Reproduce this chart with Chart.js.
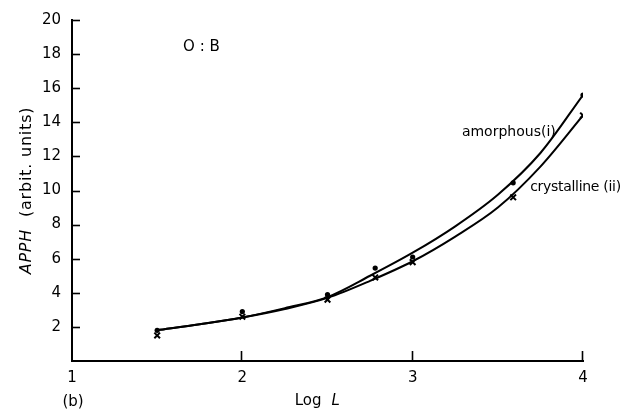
<!DOCTYPE html>
<html>
<head>
<meta charset="utf-8">
<script src="https://cdn.jsdelivr.net/npm/chart.js@4/dist/chart.umd.min.js"></script>
<style>
html,body{margin:0;padding:0;background:#fff;}
#wrap{width:624px;height:413px;}
</style>
</head>
<body>
<div id="wrap"><canvas id="c" width="624" height="413"></canvas></div>
<script>
// ---- data ----
const curveX = [1.5, 1.75, 2.0, 2.25, 2.5, 2.75, 3.0, 3.25, 3.5, 3.75, 4.0];
const amorphousCurve = [1.8, 2.15, 2.55, 3.1, 3.75, 5.0, 6.35, 7.9, 9.75, 12.2, 15.6];
const crystallineCurve = [1.8, 2.15, 2.55, 3.05, 3.7, 4.7, 5.85, 7.3, 9.0, 11.4, 14.4];

const pointX = [1.5, 2.0, 2.5, 2.78, 3.0, 3.59, 4.0];
const amorphousPoints = [1.8, 2.9, 3.9, 5.45, 6.1, 10.45, 15.6];
const crystallinePoints = [1.5, 2.6, 3.6, 4.9, 5.8, 9.6, 14.4];

const xTickValues = [1, 2, 3, 4];
const yTickValues = [2, 4, 6, 8, 10, 12, 14, 16, 18, 20];

const seriesNames = ['amorphous(i)', 'crystalline (ii)'];
const panelLabel = 'O : B';
const figLabel = '(b)';

const FONT = '"DejaVu Sans", "Liberation Sans", sans-serif';

function pairs(xs, ys) { return xs.map((x, i) => ({x: x, y: ys[i]})); }

const annotations = {
  id: 'annotations',
  afterDraw(chart) {
    const ctx = chart.ctx;
    const xs = chart.scales.x, ys = chart.scales.y;
    const area = chart.chartArea;
    ctx.save();
    ctx.strokeStyle = '#000';
    ctx.fillStyle = '#000';
    ctx.lineWidth = 1.6;
    // inward ticks on y axis
    ys.ticks.forEach(t => {
      if (yTickValues.indexOf(t.value) < 0) return;
      const py = Math.round(ys.getPixelForValue(t.value)) + 0.5;
      ctx.beginPath();
      ctx.moveTo(area.left, py);
      ctx.lineTo(area.left + 8, py);
      ctx.stroke();
    });
    // upward ticks on x axis
    xs.ticks.forEach(t => {
      if (t.value <= xs.min) return;
      const px = Math.round(xs.getPixelForValue(t.value)) - 0.5;
      ctx.beginPath();
      ctx.moveTo(px, area.bottom);
      ctx.lineTo(px, area.bottom - 10);
      ctx.stroke();
    });

    ctx.textBaseline = 'middle';
    // panel label
    ctx.font = '15px ' + FONT;
    ctx.textAlign = 'center';
    ctx.fillText(panelLabel, xs.getPixelForValue(1.76), ys.getPixelForValue(18.4));

    // series labels
    ctx.font = '14px ' + FONT;
    ctx.textAlign = 'right';
    ctx.fillText(seriesNames[0], xs.getPixelForValue(3.84), ys.getPixelForValue(13.4));
    ctx.save();
    ctx.letterSpacing = '-0.3px';
    ctx.textAlign = 'left';
    ctx.fillText(seriesNames[1], xs.getPixelForValue(3.69), ys.getPixelForValue(10.2));
    ctx.restore();

    // x-axis title "Log L"
    ctx.textAlign = 'left';
    ctx.font = '15px ' + FONT;
    const logW = ctx.measureText('Log').width;
    ctx.font = 'italic 15px ' + FONT;
    const lW = ctx.measureText('L').width;
    const gap = 10;
    const cx = xs.getPixelForValue(2.44);
    let sx = cx - (logW + gap + lW) / 2;
    const ty = 401;
    ctx.font = '15px ' + FONT;
    ctx.fillText('Log', sx, ty);
    ctx.font = 'italic 15px ' + FONT;
    ctx.fillText('L', sx + logW + gap, ty);

    // (b)
    ctx.font = '15px ' + FONT;
    ctx.textAlign = 'center';
    ctx.fillText(figLabel, xs.getPixelForValue(1) + 1, 402);

    // y-axis title
    ctx.save();
    const my = (area.top + area.bottom) / 2;
    ctx.translate(27, my);
    ctx.rotate(-Math.PI / 2);
    ctx.letterSpacing = '0.8px';
    ctx.font = 'italic 16px ' + FONT;
    const aW = ctx.measureText('APPH').width;
    ctx.font = '16px ' + FONT;
    const rest = '  (arbit. units)';
    const rW = ctx.measureText(rest).width;
    let st = -(aW + rW) / 2;
    ctx.textAlign = 'left';
    ctx.font = 'italic 16px ' + FONT;
    ctx.fillText('APPH', st, 0);
    ctx.font = '16px ' + FONT;
    ctx.fillText(rest, st + aW, 0);
    ctx.restore();

    ctx.restore();
  }
};

new Chart(document.getElementById('c').getContext('2d'), {
  type: 'scatter',
  data: {
    datasets: [
      {
        label: seriesNames[0] + ' curve',
        data: pairs(curveX, amorphousCurve),
        showLine: true,
        borderColor: '#000',
        borderWidth: 2,
        pointRadius: 0,
        cubicInterpolationMode: 'monotone',
        fill: false
      },
      {
        label: seriesNames[1] + ' curve',
        data: pairs(curveX, crystallineCurve),
        showLine: true,
        borderColor: '#000',
        borderWidth: 2,
        pointRadius: 0,
        cubicInterpolationMode: 'monotone',
        fill: false
      },
      {
        label: seriesNames[0],
        data: pairs(pointX, amorphousPoints),
        pointStyle: 'circle',
        pointRadius: 2.6,
        backgroundColor: '#000',
        borderColor: '#000',
        borderWidth: 0
      },
      {
        label: seriesNames[1],
        data: pairs(pointX, crystallinePoints),
        pointStyle: 'crossRot',
        pointRadius: 4,
        borderColor: '#000',
        borderWidth: 2
      }
    ]
  },
  options: {
    responsive: false,
    animation: false,
    devicePixelRatio: 1,
    layout: { padding: { top: 17, right: 41, left: 0, bottom: 0 } },
    plugins: { legend: { display: false }, tooltip: { enabled: false }, title: { display: false } },
    scales: {
      x: {
        type: 'linear',
        min: 1, max: 4,
        afterFit(s) { s.height = 52; },
        afterBuildTicks(s) { s.ticks = xTickValues.map(v => ({value: v})); },
        grid: { display: false, drawTicks: false },
        border: { display: true, color: '#000', width: 2 },
        ticks: { color: '#000', font: { family: FONT, size: 15 }, padding: 8, maxRotation: 0 }
      },
      y: {
        type: 'linear',
        min: 0, max: 20,
        afterFit(s) { s.width = 72; },
        afterBuildTicks(s) { s.ticks = yTickValues.map(v => ({value: v})); },
        grid: { display: false, drawTicks: false },
        border: { display: true, color: '#000', width: 2 },
        ticks: { color: '#000', font: { family: FONT, size: 15 }, padding: 11 }
      }
    }
  },
  plugins: [annotations]
});
</script>
</body>
</html>
